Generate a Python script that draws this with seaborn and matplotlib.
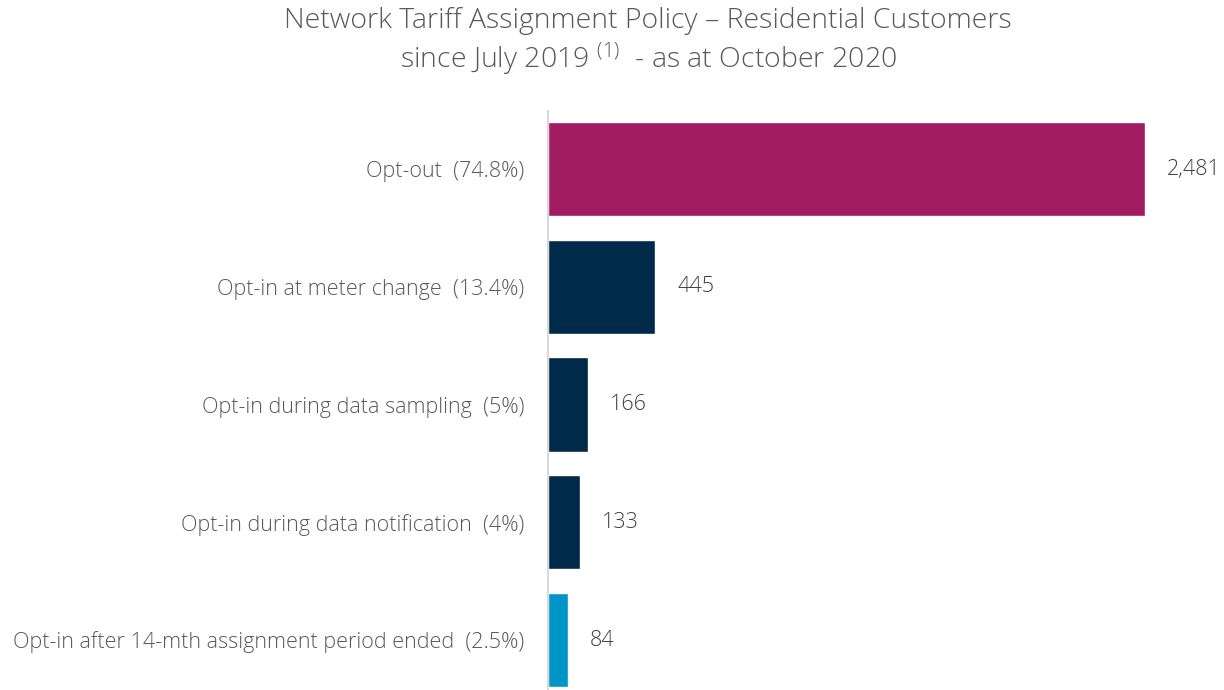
import matplotlib
matplotlib.use("Agg")
import matplotlib.pyplot as plt
import seaborn as sns
import pandas as pd

categories = [
    "Opt-out  (74.8%)",
    "Opt-in at meter change  (13.4%)",
    "Opt-in during data sampling  (5%)",
    "Opt-in during data notification  (4%)",
    "Opt-in after 14-mth assignment period ended  (2.5%)",
]
customers = [2481, 445, 166, 133, 84]
bar_colors = ["#A11C63", "#002A4A", "#002A4A", "#002A4A", "#0095C8"]

title_line1 = "Network Tariff Assignment Policy \u2013 Residential Customers"
title_line2 = "since July 2019 $^{\\mathrm{(1)}}$  - as at October 2020"

sns.set_theme(style="white")
FONT = "Open Sans"
plt.rcParams["font.family"] = [FONT, "DejaVu Sans"]
plt.rcParams["mathtext.fontset"] = "custom"
plt.rcParams["mathtext.rm"] = FONT + ":light"
plt.rcParams["mathtext.it"] = FONT
plt.rcParams["mathtext.bf"] = FONT

df = pd.DataFrame({"category": categories, "customers": customers})

W, H = 1224, 690
fig = plt.figure(figsize=(W / 100, H / 100), dpi=100)
ax_left, ax_right = 548, 1224
ax_top, ax_bottom = 111, 690
ax = fig.add_axes([ax_left / W, 1 - ax_bottom / H, (ax_right - ax_left) / W, (ax_bottom - ax_top) / H])

sns.barplot(data=df, x="customers", y="category", hue="category",
            palette=bar_colors, orient="h", width=0.8, legend=False,
            saturation=1, ax=ax)

px_per_unit = (1145 - 548) / customers[0]
ax.set_xlim(0, (ax_right - ax_left) / px_per_unit)
spacing = 117.75
ax.set_ylim(4 + 50 / spacing, -58 / spacing)

for spine in ["top", "right", "bottom"]:
    ax.spines[spine].set_visible(False)
ax.spines["left"].set_color("#D9D9D9")
ax.spines["left"].set_linewidth(1.5)
ax.set_xticks([])
ax.set_xlabel("")
ax.set_ylabel("")
ax.tick_params(axis="y", length=0, pad=17, labelsize=15.5, labelcolor="#595959")
for lbl in ax.get_yticklabels():
    lbl.set_fontweight("light")

gap = 22 / px_per_unit
for i, v in enumerate(customers):
    ax.text(v + gap, i, f"{v:,}", va="center", ha="left",
            fontsize=15.5, color="#404040", fontweight="light")

fig.text(648 / W, 1 - 21 / H, title_line1, ha="center", va="center",
         fontsize=20.5, color="#595959", fontweight="light")
fig.text(648 / W, 1 - 59 / H, title_line2, ha="center", va="center",
         fontsize=20.5, color="#595959", fontweight="light")

fig.savefig("out.png", dpi=100, facecolor="white")
